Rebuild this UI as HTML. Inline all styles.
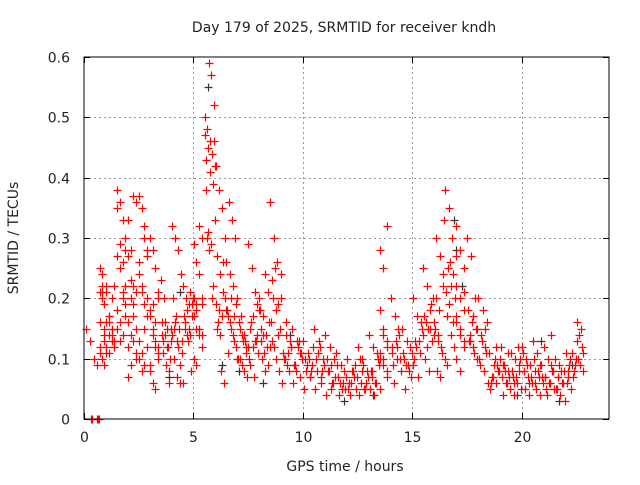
<!DOCTYPE html>
<html><head><meta charset="utf-8"><style>
body{margin:0;background:#fff}
svg{font-family:"DejaVu Sans","Liberation Sans",sans-serif}
</style></head><body>
<svg id="chart" width="640" height="480" viewBox="0 0 640 480">
<rect width="640" height="480" fill="#fff"/>
<text x="344" y="32" font-size="14" text-anchor="middle" fill="#222">Day 179 of 2025, SRMTID for receiver kndh</text>
<text x="0" y="0" font-size="14" text-anchor="middle" fill="#222" transform="translate(18,238) rotate(-90)">SRMTID / TECUs</text>
<text x="345" y="471" font-size="14" text-anchor="middle" fill="#222">GPS time / hours</text>
<g id="grid"></g>
<g id="ticks"></g>
<g id="blk"></g>
<g id="red"></g>
<rect x="84" y="57" width="525" height="362" fill="none" stroke="#000" stroke-width="1"/>
</svg>
<script>
const xTicks=[0,5,10,15,20];
const yTicks=[0,0.1,0.2,0.3,0.4,0.5,0.6];
const yTickLabels=["0","0.1","0.2","0.3","0.4","0.5","0.6"];
const segStart=[0.0,0.7,1.0,1.5,2.0,2.5,3.0,3.5,4.0,4.5,5.0,5.5,6.0,6.5,7.0,7.5,8.0,8.5,9.0,9.5,10,10.5,11,11.5,12,12.5,13,13.5,14,14.5,15,15.5,16,16.5,17,17.5,18,18.5,19,19.5,20,20.5,21,21.5,22,22.5];
const segValues=[
[0.15,0.13,0.10,0.09],
[0.25,0.24,0.14,0.12,0.10,0.09,0.21,0.22,0.19,0.16,0.2,0.13,0.11,0.21,0.15],
[0.22,0.17,0.15,0.13,0.12,0.11,0.2,0.22,0.16,0.14,0.13,0.12,0.21,0.16,0.14,0.12,0.11,0.17,0.15,0.13],
[0.38,0.36,0.33,0.3,0.27,0.25,0.21,0.17,0.15,0.13,0.2,0.28,0.35,0.29,0.26,0.22,0.18,0.16,0.14,0.19],
[0.27,0.23,0.19,0.15,0.12,0.09,0.37,0.36,0.33,0.2,0.17,0.1,0.07,0.28,0.22,0.21,0.16,0.14,0.13,0.11],
[0.37,0.35,0.32,0.28,0.24,0.21,0.15,0.12,0.1,0.08,0.3,0.27,0.26,0.22,0.19,0.17,0.13,0.11,0.09,0.2],
[0.3,0.28,0.25,0.21,0.18,0.15,0.12,0.1,0.08,0.06,0.05,0.2,0.17,0.14,0.13,0.11,0.09,0.19,0.16,0.12],
[0.23,0.2,0.15,0.13,0.11,0.09,0.06,0.16,0.14,0.12,0.15,0.13,0.12,0.1,0.14,0.16,0.08],
[0.32,0.3,0.28,0.24,0.2,0.17,0.15,0.13,0.1,0.07,0.06,0.14,0.16,0.12,0.11,0.15,0.13,0.09],
[0.22,0.2,0.19,0.17,0.15,0.13,0.08,0.06,0.18,0.14,0.2,0.16,0.15,0.19,0.17,0.14,0.21],
[0.2,0.19,0.15,0.12,0.1,0.09,0.15,0.14,0.2,0.18,0.32,0.3,0.29,0.26,0.24,0.19,0.17,0.15,0.14,0.2],
[0.5,0.48,0.46,0.44,0.42,0.38,0.59,0.57,0.52,0.47,0.45,0.41,0.39,0.33,0.3,0.28,0.2,0.46,0.43,0.31,0.29,0.22],
[0.42,0.38,0.35,0.3,0.27,0.24,0.21,0.18,0.16,0.08,0.06,0.19,0.18,0.17,0.2,0.15,0.14,0.26],
[0.26,0.24,0.22,0.19,0.17,0.15,0.13,0.1,0.36,0.33,0.3,0.18,0.16,0.14,0.12,0.11,0.2,0.17],
[0.2,0.17,0.14,0.12,0.1,0.08,0.07,0.15,0.13,0.11,0.16,0.14,0.12,0.1,0.09,0.13],
[0.29,0.25,0.21,0.18,0.16,0.13,0.11,0.09,0.07,0.19,0.15,0.12,0.14,0.1,0.17,0.13],
[0.2,0.17,0.14,0.12,0.1,0.08,0.16,0.13,0.24,0.21,0.15,0.11,0.09,0.18,0.14,0.12],
[0.36,0.3,0.26,0.24,0.2,0.18,0.15,0.13,0.1,0.08,0.23,0.25,0.19,0.16,0.12,0.14],
[0.2,0.16,0.13,0.11,0.09,0.12,0.1,0.08,0.06,0.14,0.12,0.1,0.11],
[0.15,0.13,0.11,0.09,0.07,0.06,0.12,0.1,0.08,0.11,0.09,0.13],
[0.13,0.11,0.09,0.08,0.07,0.05,0.1,0.12,0.09,0.08,0.1,0.07],
[0.15,0.13,0.1,0.08,0.07,0.05,0.12,0.09,0.11,0.08,0.1,0.06],
[0.14,0.12,0.1,0.08,0.06,0.04,0.09,0.07,0.08,0.06,0.1,0.05],
[0.11,0.09,0.07,0.06,0.05,0.04,0.08,0.07,0.06,0.09,0.05],
[0.1,0.08,0.07,0.06,0.05,0.04,0.09,0.06,0.07,0.05,0.08],
[0.12,0.1,0.08,0.06,0.05,0.04,0.09,0.07,0.08,0.06,0.1,0.05],
[0.14,0.12,0.1,0.08,0.06,0.05,0.04,0.09,0.07,0.11,0.08,0.06],
[0.18,0.15,0.13,0.11,0.09,0.07,0.05,0.1,0.32,0.28,0.25,0.12,0.1,0.14,0.08],
[0.2,0.17,0.14,0.12,0.1,0.08,0.06,0.15,0.11,0.13,0.1,0.09,0.12],
[0.15,0.13,0.11,0.09,0.07,0.05,0.12,0.1,0.08,0.11,0.09],
[0.2,0.17,0.15,0.13,0.11,0.09,0.07,0.14,0.12,0.16,0.1,0.13],
[0.25,0.22,0.19,0.17,0.15,0.13,0.1,0.08,0.2,0.16,0.18,0.14,0.12,0.15],
[0.16,0.14,0.12,0.1,0.08,0.07,0.33,0.3,0.27,0.24,0.2,0.18,0.22,0.15,0.13,0.11],
[0.38,0.35,0.3,0.27,0.25,0.22,0.2,0.17,0.14,0.12,0.09,0.26,0.24,0.21,0.19,0.16],
[0.32,0.28,0.25,0.22,0.2,0.18,0.16,0.14,0.12,0.1,0.08,0.21,0.17,0.15,0.13],
[0.3,0.27,0.2,0.18,0.16,0.15,0.13,0.12,0.1,0.14,0.17,0.15,0.13,0.11],
[0.2,0.18,0.16,0.14,0.12,0.1,0.08,0.06,0.13,0.11,0.09,0.15],
[0.11,0.09,0.08,0.07,0.06,0.05,0.1,0.08,0.07,0.09,0.06,0.12],
[0.1,0.09,0.08,0.07,0.06,0.05,0.04,0.11,0.12,0.08,0.07,0.09,0.06],
[0.11,0.1,0.08,0.07,0.06,0.05,0.04,0.09,0.08,0.07,0.1,0.06,0.12],
[0.12,0.1,0.09,0.08,0.07,0.06,0.05,0.04,0.11,0.09,0.07,0.08,0.06],
[0.13,0.11,0.09,0.08,0.07,0.06,0.05,0.04,0.1,0.08,0.07,0.06,0.09],
[0.12,0.1,0.08,0.07,0.06,0.05,0.04,0.09,0.07,0.06,0.08,0.05,0.14],
[0.1,0.09,0.08,0.07,0.06,0.05,0.04,0.03,0.07,0.06,0.05,0.08],
[0.11,0.1,0.09,0.08,0.07,0.06,0.05,0.1,0.09,0.08,0.07,0.11],
[0.16,0.15,0.13,0.12,0.1,0.08,0.14,0.11,0.09]
];
const zeroTimes=[0.3,0.35,0.6,0.65,0.7];
const blackTimes=[3.9,4.4,5.65,6.3,7.1,8.2,9.4,11.9,13.2,16.9,17.0,17.3,19.8,20.9,21.7,22.3];
const blackValues=[0.07,0.21,0.55,0.09,0.08,0.06,0.14,0.03,0.04,0.33,0.28,0.22,0.04,0.13,0.03,0.09];

const X0=84,X1=609,Y0=419,Y1=57,XMAX=24,YMAX=0.6;
const xs=t=>X0+(X1-X0)*t/XMAX;
const ys=v=>Y0-(Y0-Y1)*v/YMAX;
const NS="http://www.w3.org/2000/svg";
function mk(tag,attrs,parent){const e=document.createElementNS(NS,tag);for(const k in attrs)e.setAttribute(k,attrs[k]);parent.appendChild(e);return e;}
const grid=document.getElementById('grid'),ticks=document.getElementById('ticks'),svg=document.getElementById('chart');
xTicks.forEach((t,i)=>{
  const x=Math.round(xs(t))+0.5;
  if(t>0){const g=mk('line',{x1:x,y1:Y1,x2:x,y2:Y0,stroke:'#999','stroke-dasharray':'2,3'},grid);
  
  }
  mk('line',{x1:x,y1:Y0,x2:x,y2:Y0-6,stroke:'#000'},ticks);
  mk('line',{x1:x,y1:Y1,x2:x,y2:Y1+6,stroke:'#000'},ticks);
  const l=mk('text',{x:x,y:442,'font-size':14,'text-anchor':'middle',fill:'#222'},svg);
  l.textContent=String(t);
  
  
});
yTicks.forEach((v,i)=>{
  const y=Math.round(ys(v))+0.5;
  if(v>0&&v<0.6){const g=mk('line',{x1:X0,y1:y,x2:X1,y2:y,stroke:'#999','stroke-dasharray':'2,3'},grid);
  
  }
  mk('line',{x1:X0,y1:y,x2:X0+6,y2:y,stroke:'#000'},ticks);
  mk('line',{x1:X1,y1:y,x2:X1-6,y2:y,stroke:'#000'},ticks);
  const l=mk('text',{x:70,y:y+5,'font-size':14,'text-anchor':'end',fill:'#222'},svg);
  l.textContent=yTickLabels[i];
  
  
});
function plus(parent,t,v,color){
  const x=Math.round(xs(t))+0.5,y=Math.round(ys(v))+0.5;
  const p=mk('path',{d:`M${x-4} ${y}H${x+4}M${x} ${y-4}V${y+4}`,stroke:color,'stroke-width':1.2,fill:'none'},parent);
  
  
}
const blk=document.getElementById('blk'),red=document.getElementById('red');
blackTimes.forEach((t,i)=>plus(blk,t,blackValues[i],'#333'));
segStart.forEach((s,i)=>{const vals=segValues[i];const w=(i+1<segStart.length?segStart[i+1]:s+0.35)-s;const n=vals.length;
  vals.forEach((v,j)=>plus(red,s+w*(((j*5)%n)+0.5)/n,v,'#ff0000'));});
zeroTimes.forEach(t=>plus(red,t,0,'#ff0000'));
</script>
</body></html>
